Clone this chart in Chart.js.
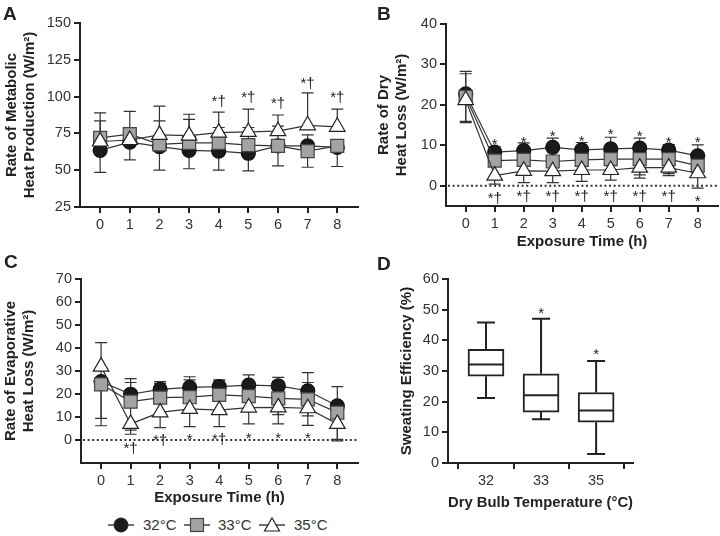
<!DOCTYPE html>
<html><head><meta charset="utf-8">
<script src="https://cdn.jsdelivr.net/npm/chart.js@4.4.1/dist/chart.umd.min.js"></script>
<style>
body{margin:0;background:#fff;width:720px;height:536px;position:relative;overflow:hidden;font-family:"Liberation Sans",Arial,Helvetica,sans-serif;}
canvas{position:absolute;}
.lab{position:absolute;font-weight:bold;font-size:19px;color:#222;line-height:19px;}
.leg{position:absolute;top:516px;height:18px;font-size:15px;color:#333;line-height:18px;}
svg{position:absolute;}
</style></head>
<body>
<canvas id="cA" width="360" height="240" style="left:0;top:0"></canvas>
<canvas id="cB" width="360" height="252" style="left:360px;top:0"></canvas>
<canvas id="cC" width="360" height="268" style="left:0;top:240px"></canvas>
<canvas id="cD" width="300" height="273" style="left:360px;top:240px"></canvas>
<div class="lab" style="left:3px;top:4px">A</div>
<div class="lab" style="left:377px;top:4px">B</div>
<div class="lab" style="left:4px;top:252px">C</div>
<div class="lab" style="left:377px;top:254px">D</div>

<svg style="left:107px;top:516px" width="28" height="18"><line x1="1" y1="9" x2="27" y2="9" stroke="#333" stroke-width="1.4"/><circle cx="14" cy="9" r="7" fill="#1a1a1a" stroke="#222" stroke-width="1"/></svg>
<div class="leg" style="left:143px">32°C</div>
<svg style="left:183px;top:516px" width="28" height="18"><line x1="1" y1="9" x2="27" y2="9" stroke="#333" stroke-width="1.4"/><rect x="7.5" y="2.5" width="13" height="13" fill="#a3a3a3" stroke="#444" stroke-width="1.2"/></svg>
<div class="leg" style="left:218px">33°C</div>
<svg style="left:258px;top:516px" width="28" height="18"><line x1="1" y1="9" x2="27" y2="9" stroke="#333" stroke-width="1.4"/><polygon points="14,2 21.5,15 6.5,15" fill="#fff" stroke="#222" stroke-width="1.2"/></svg>
<div class="leg" style="left:294px">35°C</div>

<script>
// ---------- data ----------
const hours = [0, 1, 2, 3, 4, 5, 6, 7, 8];
const tempLabels = ['32°C', '33°C', '35°C'];

// Panel A: metabolic heat production (W/m2)
const metab32 = [63.5, 69, 66, 63.5, 63, 61.5, 66.5, 66.5, 65.5];
const metab33 = [72, 74.5, 67.5, 68.5, 68.5, 67, 66.5, 63, 66.5];
const metab35 = [69.5, 70.5, 74, 73.5, 75.5, 76, 76.5, 80.5, 79.5];
const metab32Low = [48.5, 57, 50, 51, 50, 49.5, 53, 52, 52.5];
const metab33High = [83.5, 90, 83.5, 84.5, 79, 79, 80, 74, null];
const metab35High = [89, null, 93.5, 88, 89.5, 91.5, 87.5, 102.5, 91.5];
const metabMarks = [[4, 96.5, '*†'], [5, 99, '*†'], [6, 95, '*†'], [7, 109, '*†'], [8, 99, '*†']];

// Panel B: dry heat loss (W/m2)
const dry32 = [22.7, 8.3, 8.7, 9.5, 8.9, 9.1, 9.3, 8.8, 7.4];
const dry33 = [22, 6.2, 6.4, 6.0, 6.4, 6.6, 6.6, 6.6, 5.0];
const dry35 = [21.2, 2.5, 3.7, 3.6, 3.9, 3.9, 4.5, 4.5, 3.1];
const dry32High = [28.3, 9.6, 10.6, 11.8, 10.7, 12, 11.8, 10.2, 10.1];
const dry33High = [27.7, null, null, null, null, null, null, 9.8, null];
const dry32Low = [15.9, null, null, null, null, null, null, null, null];
const dry33Low = [15.6, null, null, null, null, null, 2.7, 3.0, null];
const dry35Low = [null, 0.4, 0.8, 0.8, 1.1, 1.4, 1.9, 2.5, -0.6];
const dryMarks = [[1, 11.3, '*'], [2, 11.8, '*'], [3, 13.1, '*'], [4, 12, '*'], [5, 13.6, '*'], [6, 13.2, '*'], [7, 11.6, '*'], [8, 11.6, '*'],
  [1, -3.3, '*†'], [2, -2.8, '*†'], [3, -2.8, '*†'], [4, -2.8, '*†'], [5, -2.8, '*†'], [6, -2.8, '*†'], [7, -2.8, '*†'], [8, -2.9, '*']];

// Panel C: evaporative heat loss (W/m2)
const evap32 = [25.4, 19.9, 22, 22.9, 23.2, 23.9, 23.5, 21.4, 14.8];
const evap33 = [24.2, 16.7, 18.4, 18.6, 19.6, 19.1, 18.1, 17.7, 11.9];
const evap35 = [31.9, 7.0, 12.0, 13.5, 13.0, 14.1, 14.2, 13.8, 7.0];
const evap32High = [null, 26.7, 25.4, 27.5, 26.1, 28.3, 27.2, 29.3, 23.2];
const evap33High = [null, 25, 24.6, 26.1, 25.6, null, 25.5, 25, null];
const evap35High = [42.3, null, null, null, null, null, null, null, null];
const evap33Low = [6.2, 4.3, null, null, null, null, 11, 10.5, 0.3];
const evap35Low = [9.4, 2.5, 5.4, 5.8, 5.8, 7.0, 7.0, 6.4, -0.4];
const evapMarks = [[1, -3.9, '*†'], [2, -0.2, '*†'], [3, 1.8, '*'], [4, 0.1, '*†'], [5, 2.2, '*'], [6, 2.2, '*'], [7, 2.2, '*']];

// Panel D: sweating efficiency (%)
const boxTemps = ['32', '33', '35'];
const boxPos = [0, 1, 2];
const boxMin = [21.2, 14.3, 2.9];
const boxQ1 = [28.3, 16.6, 13.3];
const boxMed = [32.1, 22.1, 17.1];
const boxQ3 = [37.1, 29.1, 23.0];
const boxMax = [45.8, 47.0, 33.3];
const boxMarks = [[1, 50.2, '*'], [2, 36.7, '*']];

// ---------- drawing ----------
const FONT = "'Liberation Sans', Arial, Helvetica, sans-serif";
const INK = '#222';

function drawMarks(ctx, x, y, marks, getX) {
  ctx.save();
  ctx.fillStyle = '#222';
  ctx.textAlign = 'center';
  ctx.textBaseline = 'alphabetic';
  marks.forEach(([xv, yv, t]) => {
    const fs = 15;
    ctx.font = fs + 'px ' + FONT;
    const px = getX(xv), py = y.getPixelForValue(yv);
    const base = t === '*' ? py + 0.57 * fs : py + 0.28 * fs;
    ctx.fillText(t, px, base);
  });
  ctx.restore();
}

function overlay(cfg) {
  return {
    id: 'overlay',
    beforeDatasetsDraw(chart) {
      const {ctx, chartArea} = chart;
      const x = chart.scales.x, y = chart.scales.y;
      ctx.save();
      if (cfg.zero) {
        const py = y.getPixelForValue(0);
        ctx.setLineDash([2, 2.6]);
        ctx.lineWidth = 2;
        ctx.strokeStyle = '#333';
        ctx.beginPath(); ctx.moveTo(chartArea.left + 2, py); ctx.lineTo(chartArea.right, py); ctx.stroke();
        ctx.setLineDash([]);
      }
      ctx.lineWidth = 1.2;
      ctx.strokeStyle = '#333';
      chart.data.datasets.forEach(ds => {
        ['errHigh', 'errLow'].forEach(k => {
          const arr = ds[k];
          if (!arr) return;
          arr.forEach((v, i) => {
            if (v == null) return;
            const px = x.getPixelForValue(hours[i]);
            const p0 = y.getPixelForValue(ds.vals[i]);
            const p1 = y.getPixelForValue(v);
            ctx.beginPath();
            ctx.moveTo(px, p0); ctx.lineTo(px, p1);
            ctx.moveTo(px - 6, p1); ctx.lineTo(px + 6, p1);
            ctx.stroke();
          });
        });
      });
      ctx.restore();
    },
    afterDatasetsDraw(chart) {
      const x = chart.scales.x, y = chart.scales.y;
      if (cfg.marks) drawMarks(chart.ctx, x, y, cfg.marks, v => x.getPixelForValue(v));
    }
  };
}

function axisCommon(extra) {
  return Object.assign({
    ticks: {font: {family: FONT, size: 14.5}, color: '#333', padding: 3, autoSkip: false, maxRotation: 0},
    grid: {display: true, drawOnChartArea: false, drawTicks: true, tickLength: 6, tickColor: INK, tickWidth: 2, lineWidth: 2, color: INK},
    border: {display: true, color: INK, width: 2}
  }, extra);
}
const titleFont = {family: FONT, size: 15, weight: 'bold', lineHeight: 1.2};

function linePanel(id, o) {
  const styles = [
    {pointStyle: 'circle', pointRadius: 7, pointBackgroundColor: '#1a1a1a', pointBorderColor: '#111', order: 3},
    {pointStyle: 'rect', pointRadius: 9.2, pointBackgroundColor: '#a3a3a3', pointBorderColor: '#444', order: 2},
    {pointStyle: 'triangle', pointRadius: 9, pointBackgroundColor: '#ffffff', pointBorderColor: '#222', order: 1}
  ];
  const datasets = o.series.map((s, k) => Object.assign({
    label: tempLabels[k],
    data: hours.map((h, i) => ({x: h, y: s.vals[i]})),
    vals: s.vals, errHigh: s.hi, errLow: s.lo,
    borderColor: '#333', borderWidth: 1.2, pointBorderWidth: 1.2, tension: 0, fill: false
  }, styles[k]));
  const xTitle = o.xTitle ? {display: true, text: o.xTitle, color: INK, font: titleFont, padding: {top: 0, bottom: o.xTitlePad}} : {display: false};
  new Chart(document.getElementById(id), {
    type: 'line',
    data: {datasets},
    plugins: [overlay({zero: o.zero, marks: o.marks})],
    options: {
      responsive: false, animation: false, devicePixelRatio: 1, events: [],
      layout: {autoPadding: false, padding: {left: 0, top: o.padTop, right: o.padRight, bottom: 0}},
      plugins: {legend: {display: false}, tooltip: {enabled: false}},
      scales: {
        x: axisCommon({
          type: 'linear', min: -0.68, max: 8.7,
          afterBuildTicks: s => { s.ticks = hours.map(v => ({value: v})); },
          afterFit: s => { s.height = o.xH; },
          title: xTitle
        }),
        y: axisCommon({
          type: 'linear', min: o.yMin, max: o.yMax,
          afterBuildTicks: s => { s.ticks = o.yTicks.map(v => ({value: v})); },
          afterFit: s => { s.width = o.yW; },
          title: {display: true, text: o.yTitle, color: INK, font: titleFont, padding: {top: o.yTitlePad, bottom: 0}}
        })
      }
    }
  });
}

linePanel('cA', {
  series: [{vals: metab32, lo: metab32Low}, {vals: metab33, hi: metab33High}, {vals: metab35, hi: metab35High}],
  yMin: 25, yMax: 150, yTicks: [25, 50, 75, 100, 125, 150],
  yTitle: ['Rate of Metabolic', 'Heat Production (W/m²)'],
  marks: metabMarks, padTop: 23, padRight: 2, yW: 80, xH: 33, yTitlePad: 3
});

linePanel('cB', {
  series: [{vals: dry32, hi: dry32High, lo: dry32Low}, {vals: dry33, hi: dry33High, lo: dry33Low}, {vals: dry35, lo: dry35Low}],
  yMin: -5, yMax: 40, yTicks: [0, 10, 20, 30, 40], zero: true,
  yTitle: ['Rate of Dry', 'Heat Loss (W/m²)'], xTitle: 'Exposure Time (h)', xTitlePad: 1,
  marks: dryMarks, padTop: 24, padRight: 2, yW: 86, xH: 46, yTitlePad: 15
});

linePanel('cC', {
  series: [{vals: evap32, hi: evap32High}, {vals: evap33, hi: evap33High, lo: evap33Low}, {vals: evap35, hi: evap35High, lo: evap35Low}],
  yMin: -10, yMax: 70, yTicks: [0, 10, 20, 30, 40, 50, 60, 70], zero: true,
  yTitle: ['Rate of Evaporative', 'Heat Loss (W/m²)'], xTitle: 'Exposure Time (h)', xTitlePad: 1,
  marks: evapMarks, padTop: 39, padRight: 2, yW: 81, xH: 45, yTitlePad: 1.5
});

// Panel D box plot
const boxPlugin = {
  id: 'boxParts',
  afterDatasetsDraw(chart) {
    const {ctx} = chart;
    const x = chart.scales.x, y = chart.scales.y;
    ctx.save();
    ctx.strokeStyle = INK;
    ctx.lineWidth = 2;
    boxPos.forEach((p, i) => {
      const px = x.getPixelForValue(p);
      const yMed = y.getPixelForValue(boxMed[i]);
      const yQ1 = y.getPixelForValue(boxQ1[i]), yQ3 = y.getPixelForValue(boxQ3[i]);
      const yMn = y.getPixelForValue(boxMin[i]), yMx = y.getPixelForValue(boxMax[i]);
      ctx.beginPath();
      ctx.moveTo(px - 17, yMed); ctx.lineTo(px + 17, yMed);
      ctx.moveTo(px, yQ3); ctx.lineTo(px, yMx);
      ctx.moveTo(px - 9, yMx); ctx.lineTo(px + 9, yMx);
      ctx.moveTo(px, yQ1); ctx.lineTo(px, yMn);
      ctx.moveTo(px - 9, yMn); ctx.lineTo(px + 9, yMn);
      ctx.stroke();
    });
    ctx.restore();
    drawMarks(ctx, x, y, boxMarks, v => x.getPixelForValue(v));
  }
};

new Chart(document.getElementById('cD'), {
  type: 'bar',
  data: {datasets: [{
    label: 'Sweating Efficiency',
    data: boxPos.map((p, i) => ({x: p, y: [boxQ1[i], boxQ3[i]]})),
    backgroundColor: '#ffffff', borderColor: INK, borderWidth: 2, borderSkipped: false, barThickness: 36
  }]},
  plugins: [boxPlugin],
  options: {
    responsive: false, animation: false, devicePixelRatio: 1, events: [],
    layout: {autoPadding: false, padding: {left: 0, top: 39, right: 27, bottom: 0}},
    plugins: {legend: {display: false}, tooltip: {enabled: false}},
    scales: {
      x: axisCommon({
        type: 'linear', min: -0.69, max: 2.67, offset: false,
        afterBuildTicks: s => { s.ticks = boxPos.map(v => ({value: v})); },
        afterFit: s => { s.height = 50; },
        ticks: {font: {family: FONT, size: 14.5}, color: '#333', padding: 3, autoSkip: false, maxRotation: 0, callback: (v, i) => boxTemps[i]},
        title: {display: true, text: 'Dry Bulb Temperature (°C)', color: INK, font: titleFont, padding: {top: 0, bottom: 1}}
      }),
      y: axisCommon({
        type: 'linear', min: 0, max: 60,
        afterBuildTicks: s => { s.ticks = [0, 10, 20, 30, 40, 50, 60].map(v => ({value: v})); },
        afterFit: s => { s.width = 88; },
        title: {display: true, text: 'Sweating Efficiency (%)', color: INK, font: titleFont, padding: {top: 38, bottom: 0}}
      })
    }
  }
});
</script>
</body></html>
